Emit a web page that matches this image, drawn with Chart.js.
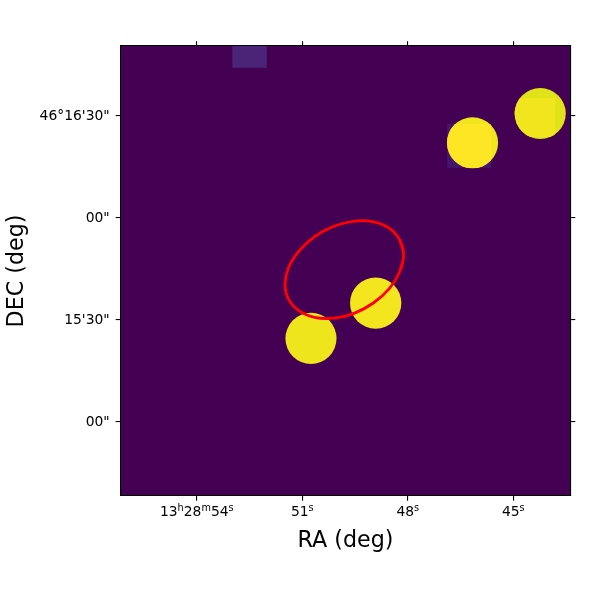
<!DOCTYPE html>
<html>
<head>
<meta charset="utf-8">
<style>
  html, body { margin: 0; padding: 0; background: #fff; }
  canvas { display: block; }
</style>
<script src="https://cdn.jsdelivr.net/npm/chart.js@4/dist/chart.umd.min.js"></script>
</head>
<body>
<canvas id="sky" width="600" height="600"></canvas>
<script>
// RA in seconds past 13h28m, DEC in arcsec past 46d15m
const raRange = [43.374, 56.169];
const decRange = [-21.8, 110.6];
const raTicks = [54, 51, 48, 45];
// label pieces, superscripts marked with 1
const raLabels = [
  [['13', 0], ['h', 1], ['28', 0], ['m', 1], ['54', 0], ['s', 1]],
  [['51', 0], ['s', 1]],
  [['48', 0], ['s', 1]],
  [['45', 0], ['s', 1]],
];
const decTicks = [90, 60, 30, 0];
const decLabels = ['46°16\'30"', '00"', '15\'30"', '00"'];

// sources, in the order A (upper middle), B (upper right), C (centre), D (lower)
const sourceRa = [46.16, 44.235, 48.913, 50.753];
const sourceDec = [82.12, 90.74, 34.95, 24.56];
const sourceRadius = [7.52, 7.52, 7.55, 7.52];

// exposure tile corners
const tileTopRa = [52.99, 52.01, 52.01, 52.99, 52.99];
const tileTopDec = [110.6, 110.6, 104.2, 104.2, 110.6];
const tileARa = [46.88, 45.63, 45.63, 46.88, 46.88];
const tileADec = [87.65, 87.65, 74.8, 74.8, 87.65];
const tileBRa = [44.98, 43.81, 43.81, 44.98, 44.98];
const tileBDec = [95.3, 95.3, 83.83, 83.83, 95.3];

// region outline, walked round once with a small overlap so the join stays smooth
const regionRa = [48.23, 48.12, 48.23, 48.52, 48.97, 49.51, 50.10, 50.65, 51.09, 51.39, 51.49,
  51.39, 51.09, 50.65, 50.10, 49.51, 48.97, 48.52, 48.23, 48.12, 48.23];
const regionDec = [44.17, 49.13, 53.57, 56.96, 58.87, 59.09, 57.58, 54.54, 50.31, 45.43, 40.47,
  36.03, 32.64, 30.73, 30.51, 32.02, 35.06, 39.29, 44.17, 49.13, 53.57];

const pts = (xs, ys) => xs.map((x, i) => ({ x, y: ys[i] }));

function discRadius(ctx) {
  const y = ctx.chart.scales.y;
  return Math.abs(y.getPixelForValue(0) - y.getPixelForValue(sourceRadius[ctx.dataset.src]));
}

function disc(i, color) {
  return {
    src: i,
    data: [{ x: sourceRa[i], y: sourceDec[i] }],
    pointRadius: discRadius,
    pointHoverRadius: discRadius,
    pointBorderWidth: 0,
    backgroundColor: color,
    showLine: false,
    order: 10,
  };
}

function tile(xs, ys, color) {
  return {
    data: pts(xs, ys),
    showLine: true,
    tension: 0,
    borderWidth: 0,
    pointRadius: 0,
    fill: 'shape',
    backgroundColor: color,
    order: 20,
  };
}

// tile seen only inside its source disc
function tileOnDisc(xs, ys, src, color) {
  return {
    data: pts(xs, ys),
    showLine: true,
    tension: 0,
    borderWidth: 0,
    pointRadius: 0,
    clipTo: src,
    tileColor: color,
    order: 5,
  };
}

const discTilePlugin = {
  id: 'discTile',
  beforeDatasetDraw(chart, args) {
    const ds = chart.data.datasets[args.index];
    if (ds.clipTo === undefined) return;
    const { x, y } = chart.scales;
    const ctx = chart.ctx;
    const r = Math.abs(y.getPixelForValue(0) - y.getPixelForValue(sourceRadius[ds.clipTo]));
    ctx.save();
    ctx.beginPath();
    ctx.arc(x.getPixelForValue(sourceRa[ds.clipTo]), y.getPixelForValue(sourceDec[ds.clipTo]), r, 0, Math.PI * 2);
    ctx.clip();
    ctx.beginPath();
    args.meta.dataset.path(ctx);
    ctx.closePath();
    ctx.fillStyle = ds.tileColor;
    ctx.fill();
    ctx.restore();
  },
};

const backdropPlugin = {
  id: 'backdrop',
  beforeDatasetsDraw(chart) {
    const a = chart.chartArea;
    chart.ctx.fillStyle = '#440154';
    chart.ctx.fillRect(a.left, a.top, a.width, a.height);
  },
};

// Chart.js tick labels are one font only, the sexagesimal RA labels need superscripts
const raLabelPlugin = {
  id: 'raLabels',
  afterDraw(chart) {
    const ctx = chart.ctx;
    const x = chart.scales.x;
    const big = '13.89px "DejaVu Sans"';
    const small = '9.72px "DejaVu Sans"';
    ctx.save();
    ctx.fillStyle = '#000';
    ctx.textAlign = 'left';
    ctx.textBaseline = 'alphabetic';
    raTicks.forEach((t, i) => {
      const widthOf = ([s, sup]) => { ctx.font = sup ? small : big; return ctx.measureText(s).width; };
      const total = raLabels[i].reduce((sum, part) => sum + widthOf(part), 0);
      let px = x.getPixelForValue(t) - total / 2;
      raLabels[i].forEach((part) => {
        const w = widthOf(part);
        ctx.fillText(part[0], px, part[1] ? 510.5 : 515.5);
        px += w;
      });
    });
    ctx.restore();
  },
};

const tickFont = { family: 'DejaVu Sans', size: 13.89 };
const frame = { color: '#000', width: 1.1, z: 1 };
const tickGrid = { drawOnChartArea: false, drawTicks: true, tickLength: 4.8, color: '#000', lineWidth: 1.1 };

function fixTicks(values) {
  return (scale) => { scale.ticks = values.map((value) => ({ value })); };
}

new Chart(document.getElementById('sky'), {
  type: 'scatter',
  data: {
    datasets: [
      tile(tileTopRa, tileTopDec, '#4a2577'),
      tile(tileARa, tileADec, '#46166c'),
      disc(0, '#f1e51d'),
      disc(1, '#e0e318'),
      disc(2, '#f4e61e'),
      disc(3, '#eee51c'),
      tileOnDisc(tileARa, tileADec, 0, '#fde725'),
      tileOnDisc(tileBRa, tileBDec, 1, '#f1e51d'),
      {
        data: pts(regionRa, regionDec),
        showLine: true,
        tension: 0.4,
        borderColor: '#ff0000',
        borderWidth: 2.8,
        pointRadius: 0,
        fill: false,
        order: 1,
      },
    ],
  },
  options: {
    responsive: false,
    animation: false,
    events: [],
    layout: { padding: { top: 46, right: 29.5, bottom: 0, left: 0 } },
    plugins: { legend: { display: false }, tooltip: { enabled: false } },
    scales: {
      x: {
        type: 'linear',
        position: 'bottom',
        reverse: true,
        min: raRange[0],
        max: raRange[1],
        afterBuildTicks: fixTicks(raTicks),
        afterFit: (s) => { s.height = 104; },
        border: frame,
        grid: tickGrid,
        ticks: { display: false },
        title: {
          display: true,
          text: 'RA (deg)',
          color: '#000',
          font: { family: 'DejaVu Sans', size: 22.2 },
          padding: { top: 0, bottom: 45.5 },
        },
      },
      y: {
        type: 'linear',
        position: 'left',
        min: decRange[0],
        max: decRange[1],
        afterBuildTicks: fixTicks(decTicks),
        afterFit: (s) => { s.width = 120.5; },
        border: frame,
        grid: tickGrid,
        ticks: {
          color: '#000',
          font: tickFont,
          padding: 6,
          autoSkip: false,
          callback: (v) => decLabels[decTicks.indexOf(v)],
        },
        title: {
          display: true,
          text: 'DEC (deg)',
          color: '#000',
          font: { family: 'DejaVu Sans', size: 22.2 },
          padding: { top: 3.5, bottom: 0 },
        },
      },
      x2: {
        type: 'linear',
        position: 'top',
        reverse: true,
        min: raRange[0],
        max: raRange[1],
        afterBuildTicks: fixTicks(raTicks),
        afterFit: (s) => { s.height = 0; },
        border: frame,
        grid: tickGrid,
        ticks: { display: false },
      },
      y2: {
        type: 'linear',
        position: 'right',
        min: decRange[0],
        max: decRange[1],
        afterBuildTicks: fixTicks(decTicks),
        afterFit: (s) => { s.width = 0; },
        border: frame,
        grid: tickGrid,
        ticks: { display: false },
      },
    },
  },
  plugins: [backdropPlugin, discTilePlugin, raLabelPlugin],
});
</script>
</body>
</html>
